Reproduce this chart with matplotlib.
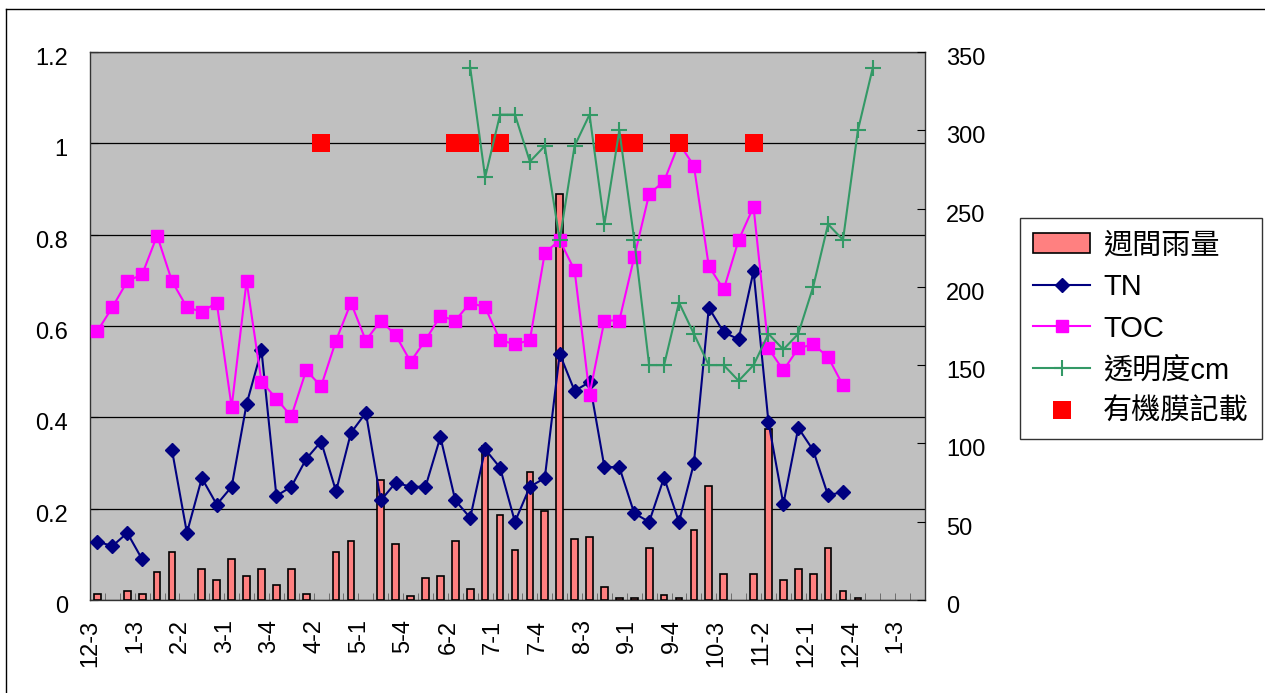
import numpy as np
import matplotlib
matplotlib.use("Agg")
import matplotlib.pyplot as plt
import matplotlib.transforms as mtransforms
from matplotlib.lines import Line2D
from matplotlib.patches import Patch

plt.rcParams['font.family'] = ['Liberation Sans', 'Noto Sans CJK TC']

nan = np.nan

# 56 weekly categories, labelled every third week
tick_labels = ["12-3", "1-3", "2-2", "3-1", "3-4", "4-2", "5-1", "5-4", "6-2", "7-1",
               "7-4", "8-3", "9-1", "9-4", "10-3", "11-2", "12-1", "12-4", "1-3"]
n_weeks = 56

# weekly rainfall (right axis)
rain = [4, nan, 5.5, 4, 18, 30.5, nan, 19.5, 12.5, 26.5,
        15.5, 19.5, 9.5, 19.5, 4, nan, 30.5, 37.5, nan, 76.5,
        36, 2.5, 14, 15.5, 37.5, 7, 98.5, 54.5, 32, 82,
        57, 259, 39, 40, 8.5, 1.5, 1.5, 33.5, 3, 1.5,
        45, 72.5, 16.5, nan, 16.5, 109, 13, 19.5, 16.5, 33.5,
        5.5, 1.5, nan, nan, nan, nan]

# TN (left axis)
tn = [0.128, 0.118, 0.147, 0.089, nan, 0.328, 0.147, 0.267, 0.209, 0.248,
      0.429, 0.547, 0.228, 0.248, 0.309, 0.347, 0.238, 0.366, 0.41, 0.218,
      0.257, 0.248, 0.248, 0.357, 0.218, 0.18, 0.33, 0.29, 0.171, 0.248,
      0.267, 0.539, 0.458, 0.477, 0.291, 0.291, 0.19, 0.171, 0.268, 0.171,
      0.299, 0.64, 0.586, 0.571, 0.72, 0.39, 0.21, 0.377, 0.328, 0.229,
      0.237, nan, nan, nan, nan, nan]

# TOC (left axis)
toc = [0.589, 0.641, 0.698, 0.713, 0.798, 0.698, 0.641, 0.631, 0.651, 0.4225,
       0.698, 0.478, 0.441, 0.402, 0.503, 0.468, 0.568, 0.651, 0.568, 0.612,
       0.58, 0.522, 0.569, 0.622, 0.612, 0.651, 0.641, 0.569, 0.56, 0.569,
       0.76, 0.788, 0.722, 0.45, 0.612, 0.612, 0.751, 0.889, 0.917, 1.0,
       0.951, 0.731, 0.68, 0.788, 0.861, 0.551, 0.503, 0.551, 0.56, 0.532,
       0.47, nan, nan, nan, nan, nan]

# transparency in cm (right axis), weeks 25..52
clarity = [nan] * 25 + [340, 270, 310, 310, 280, 290, 230, 290, 310, 240,
                        300, 230, 150, 150, 190, 170, 150, 150, 140, 150,
                        170, 160, 170, 200, 240, 230, 300, 340] + [nan] * 3

# organic film recorded (plotted at 1.0 on left axis)
film_weeks = [15, 24, 25, 27, 34, 35, 36, 39, 44]
film_value = 1.0

W, H = 1265, 693
fig = plt.figure(figsize=(W / 100, H / 100), dpi=100)
rect = [90 / W, 1 - 600 / H, 835 / W, 548 / H]
ax = fig.add_axes(rect)
ax.set_facecolor("#C0C0C0")

x = np.arange(n_weeks)
film = np.full(n_weeks, nan)
film[film_weeks] = film_value

# base axis: left scale, gridlines
ax.set_xlim(-0.5, n_weeks - 0.5)
ax.set_ylim(0, 1.2)
ax.set_yticks(np.arange(0, 1.21, 0.2))
ax.set_yticklabels(["0", "0.2", "0.4", "0.6", "0.8", "1", "1.2"])
ax.yaxis.grid(True, color="black", lw=0.9)
ax.set_axisbelow(True)
ax.tick_params(axis="y", direction="in", length=6, pad=16, labelsize=17)

ax.set_xticks(x[::3][:len(tick_labels)])
ax.set_xticklabels(tick_labels, rotation=90, va="top", ha="center")
ax.set_xticks(np.arange(-0.5, n_weeks, 1), minor=True)
ax.tick_params(axis="x", which="major", length=0, pad=14, labelsize=17)
ax.tick_params(axis="x", which="minor", direction="in", length=5, color="#606060")
shift = mtransforms.ScaledTranslation(-7 / 100, 0, fig.dpi_scale_trans)
for lab in ax.get_xticklabels():
    lab.set_transform(lab.get_transform() + shift)

# rainfall bars on right scale
ax_rain = ax.twinx()
ax_rain.bar(x, rain, width=0.45, color="#FF8080", edgecolor="black", lw=1.2,
            label="週間雨量")
ax_rain.set_ylim(0, 350)
ax_rain.set_yticks(np.arange(0, 351, 50))
ax_rain.tick_params(axis="y", direction="in", length=6, pad=15, labelsize=17)

# Excel draws value labels a little below their gridline
down = mtransforms.ScaledTranslation(0, -4.5 / 100, fig.dpi_scale_trans)
for lab in ax.get_yticklabels() + ax_rain.get_yticklabels():
    lab.set_transform(lab.get_transform() + down)

# TN / TOC / film on left scale, above the bars
ax_l = ax.twinx()
ax_l.set_ylim(0, 1.2)
ax_l.yaxis.set_visible(False)
ax_l.plot(x, tn, color="#000080", lw=1.5, marker="D", ms=7, label="TN")
ax_l.plot(x, toc, color="#FF00FF", lw=1.5, marker="s", ms=8.5, label="TOC")

# transparency on right scale
ax_c = ax.twinx()
ax_c.set_ylim(0, 350)
ax_c.yaxis.set_visible(False)
ax_c.plot(x, clarity, color="#339966", lw=1.5, marker="+", ms=12, mew=1.5,
          label="透明度cm")

ax_f = ax.twinx()
ax_f.set_ylim(0, 1.2)
ax_f.yaxis.set_visible(False)
ax_f.plot(x, film, ls="none", marker="s", ms=13.5, color="#FF0000", mew=0,
          label="有機膜記載")
ax_c.set_zorder(ax_f.get_zorder() + 1)

for a in (ax_rain, ax_l, ax_c, ax_f):
    for s in a.spines.values():
        s.set_visible(False)
for s in ax.spines.values():
    s.set_color("#333333")
    s.set_linewidth(1)
ax.spines["right"].set_visible(True)

handles = [
    Patch(facecolor="#FF8080", edgecolor="black", lw=1.2),
    Line2D([], [], color="#000080", lw=1.5, marker="D", ms=7),
    Line2D([], [], color="#FF00FF", lw=1.5, marker="s", ms=8.5),
    Line2D([], [], color="#339966", lw=1.5, marker="+", ms=12, mew=1.5),
    Line2D([], [], ls="none", marker="s", ms=13.5, color="#FF0000", mew=0),
]
labels = ["週間雨量", "TN", "TOC", "透明度cm", "有機膜記載"]
leg = fig.legend(handles, labels, loc="upper left",
                 bbox_to_anchor=(1020 / W, 1 - 218 / H), fontsize=21,
                 frameon=True, fancybox=False, edgecolor="black",
                 borderaxespad=0, borderpad=0.45, labelspacing=0.47,
                 handlelength=1.95, handletextpad=0.45)
leg.get_frame().set_linewidth(1)

# outer chart border (only left and top edges fall inside the image)
fig.add_artist(Line2D([6 / W, 6 / W], [0, 1 - 9 / H], color="black", lw=1,
                      transform=fig.transFigure))
fig.add_artist(Line2D([6 / W, 1], [1 - 9 / H, 1 - 9 / H], color="black", lw=1,
                      transform=fig.transFigure))

fig.savefig("out.png", dpi=100)
